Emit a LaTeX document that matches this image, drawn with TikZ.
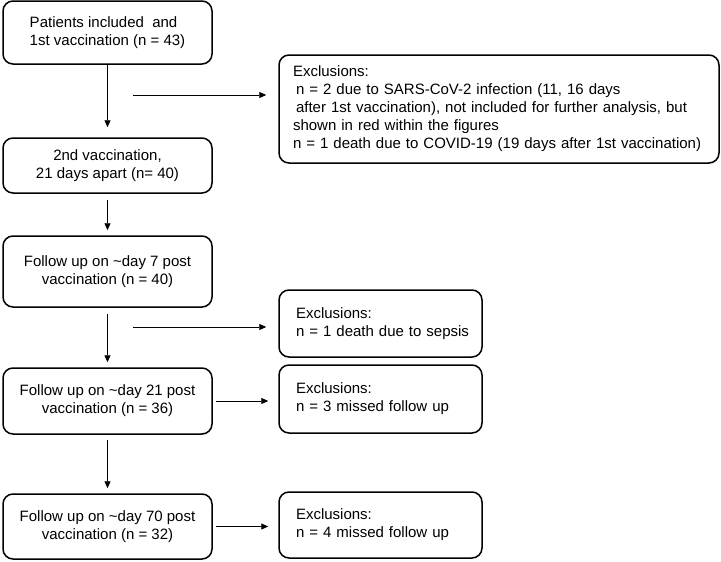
\documentclass[tikz,border=0pt]{standalone}
\usepackage{fontspec}
\setmainfont{Liberation Sans}
\usetikzlibrary{arrows.meta}
\begin{document}
\begin{tikzpicture}[x=1pt,y=-1pt,
  txt/.style={font=\fontsize{15}{18}\selectfont},
  lbox/.style={txt, draw, line width=1.5pt, rounded corners=10pt, minimum width=209pt, align=center, inner sep=2pt},
  xbox/.style={txt, draw, line width=1.5pt, rounded corners=10pt, align=left, inner ysep=2pt},
  sbox/.style={xbox, inner xsep=17pt, text width=169pt},
  arr/.style={-{Triangle[length=7pt,width=6pt]}, line width=0.9pt}]
\useasboundingbox (0,0) rectangle (721,562);
% left column
\node[lbox, align=left, minimum height=63pt] (b1) at (107.5,32.5) {Patients included\ \ and\\1st vaccination (n = 43)};
\node[lbox, minimum height=55pt] (b2) at (107.5,165.5) {2nd vaccination,\\21 days apart (n= 40)};
\node[lbox, minimum height=71pt] (b3) at (107.5,271.5) {Follow up on \textasciitilde day 7 post\\vaccination (n = 40)};
\node[lbox, minimum height=66pt] (b4) at (107.5,401) {Follow up on \textasciitilde day 21 post\\vaccination (n = 36)};
\node[lbox, minimum height=65pt] (b5) at (107.5,526.5) {Follow up on \textasciitilde day 70 post\\vaccination (n = 32)};
% exclusions
\node[xbox, inner xsep=14pt, text width=412pt, minimum height=108pt] (x1) at (499,109) {Exclusions:\\
\hspace*{3pt}n = 2 due to SARS-CoV-2 infection (11, 16 days\\
\hspace*{3pt}after 1st vaccination), not included for further analysis, but\\
shown in red within the figures\\
n = 1 death due to COVID-19 (19 days after 1st vaccination)};
\node[sbox, minimum height=67pt] (x2) at (380.5,323.5) {Exclusions:\\\mbox{n = 1 death due to sepsis}};
\node[sbox, minimum height=68pt] (x3) at (380.5,399) {Exclusions:\\\mbox{n = 3 missed follow up}};
\node[sbox, minimum height=66pt] (x4) at (380.5,525) {Exclusions:\\\mbox{n = 4 missed follow up}};
% vertical arrows
\draw[arr, shorten >=10pt] (b1.south) -- (b2.north);
\draw[arr, shorten <=6pt, shorten >=5pt] (b2.south) -- (b3.north);
\draw[arr, shorten <=6pt, shorten >=5pt] (b3.south) -- (b4.north);
\draw[arr, shorten <=5pt, shorten >=5pt] (b4.south) -- (b5.north);
% horizontal arrows
\coordinate (s1) at (133,95);
\coordinate (s2) at (133,327);
\draw[arr, shorten >=12pt] (s1) -- (s1 -| x1.west);
\draw[arr, shorten >=12pt] (s2) -- (s2 -| x2.west);
\draw[arr, shorten <=3pt, shorten >=10pt] (b4.east) -- (b4.east -| x3.west);
\draw[arr, shorten <=3pt, shorten >=10pt] (b5.east) -- (b5.east -| x4.west);
\end{tikzpicture}
\end{document}
